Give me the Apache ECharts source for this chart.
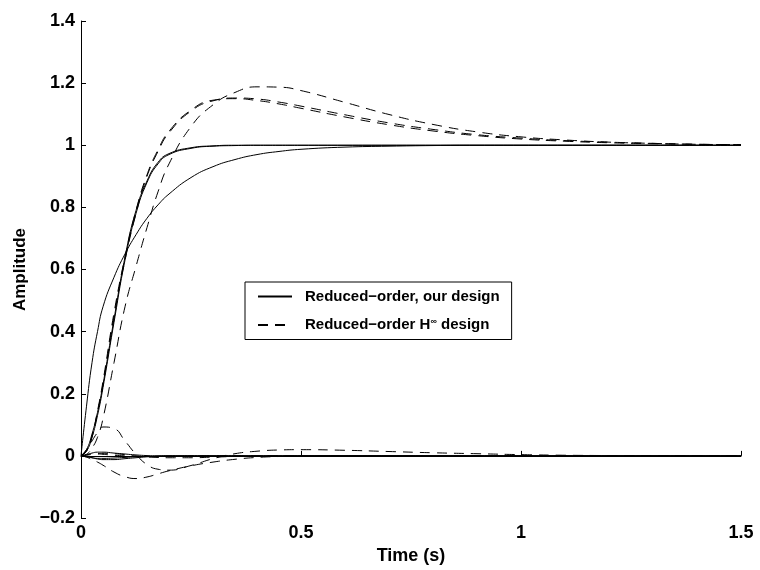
<!DOCTYPE html>
<html>
<head>
<meta charset="utf-8">
<script src="https://cdn.jsdelivr.net/npm/echarts@6/dist/echarts.min.js"></script>
<style>
  html, body { margin: 0; padding: 0; background: #fff; }
  #chart { width: 760px; height: 570px; }
</style>
</head>
<body>
<div id="chart"></div>
<script>
  // time grid (s) shared by every curve
  var T = [0, 0.0125, 0.025, 0.0375, 0.05, 0.075, 0.1, 0.125, 0.15, 0.175, 0.2, 0.25, 0.3, 0.35, 0.4, 0.45, 0.5,
           0.6, 0.7, 0.8, 0.9, 1.0, 1.1, 1.2, 1.3, 1.4, 1.5];

  // reduced-order, our design (solid) - diagonal responses
  var ourS1 = [0, 0.16, 0.30, 0.40, 0.48, 0.575, 0.65, 0.712, 0.765, 0.808, 0.843, 0.896, 0.931, 0.954, 0.97, 0.98, 0.987,
               0.994, 0.997, 0.999, 1, 1, 1, 1, 1, 1, 1];
  var ourS2 = [0, 0.015, 0.06, 0.13, 0.22, 0.43, 0.63, 0.78, 0.88, 0.94, 0.97, 0.99, 0.997, 0.999, 1, 1, 1,
               1, 1, 1, 1, 1, 1, 1, 1, 1, 1];
  var ourS3 = [0, 0.02, 0.07, 0.14, 0.23, 0.44, 0.64, 0.79, 0.885, 0.945, 0.973, 0.992, 0.998, 1, 1, 1, 1,
               1, 1, 1, 1, 1, 1, 1, 1, 1, 1];
  // off-diagonal (solid)
  var ourC1 = [0, 0.004, 0.009, 0.012, 0.012, 0.009, 0.006, 0.003, 0.001, 0, 0, 0, 0, 0, 0, 0, 0,
               0, 0, 0, 0, 0, 0, 0, 0, 0, 0];
  var ourC2 = [0, -0.003, -0.006, -0.008, -0.008, -0.007, -0.005, -0.003, -0.002, -0.001, 0, 0, 0, 0, 0, 0, 0,
               0, 0, 0, 0, 0, 0, 0, 0, 0, 0];
  var ourC3 = [0, -0.002, -0.006, -0.01, -0.012, -0.012, -0.009, -0.006, -0.003, -0.001, 0, 0, 0, 0, 0, 0, 0,
               0, 0, 0, 0, 0, 0, 0, 0, 0, 0];

  // reduced-order H-infinity design (dashed) - diagonal responses
  var hinfD1 = [0, 0.005, 0.025, 0.06, 0.12, 0.3, 0.48, 0.61, 0.735, 0.85, 0.94, 1.06, 1.13, 1.17, 1.188, 1.187, 1.176,
                1.138, 1.099, 1.067, 1.043, 1.027, 1.017, 1.01, 1.006, 1.003, 1.002];
  var hinfD2 = [0, 0.015, 0.06, 0.14, 0.23, 0.45, 0.63, 0.78, 0.9, 0.98, 1.04, 1.11, 1.143, 1.152, 1.149, 1.139, 1.126,
                1.098, 1.072, 1.051, 1.034, 1.023, 1.015, 1.01, 1.006, 1.003, 1.002];
  var hinfD3 = [0, 0.018, 0.065, 0.145, 0.24, 0.46, 0.64, 0.79, 0.905, 0.985, 1.045, 1.113, 1.145, 1.15, 1.144, 1.133, 1.119,
                1.091, 1.066, 1.046, 1.031, 1.02, 1.013, 1.008, 1.005, 1.003, 1.001];
  // off-diagonal (dashed)
  var hinfC1 = [0, 0.02, 0.048, 0.075, 0.093, 0.088, 0.048, 0.005, -0.028, -0.043, -0.046, -0.031, -0.009, 0.007, 0.015, 0.019, 0.02,
                0.018, 0.014, 0.01, 0.007, 0.004, 0.002, 0.001, 0, 0, 0];
  var hinfC2 = [0, -0.004, -0.012, -0.02, -0.03, -0.052, -0.067, -0.073, -0.068, -0.058, -0.048, -0.032, -0.02, -0.011, -0.005, -0.002, 0,
                0.001, 0.001, 0, 0, 0, 0, 0, 0, 0, 0];
  var hinfC3 = [0, 0.002, 0.005, 0.007, 0.008, 0.007, 0.004, 0, -0.003, -0.005, -0.006, -0.006, -0.004, -0.002, -0.001, 0, 0,
                0, 0, 0, 0, 0, 0, 0, 0, 0, 0];
  var hinfC4 = [0, 0.003, 0.006, 0.006, 0.005, 0.002, 0, -0.002, -0.003, -0.003, -0.002, -0.001, 0, 0, 0, 0, 0,
                0, 0, 0, 0, 0, 0, 0, 0, 0, 0];

  var xTicks = [0, 0.5, 1, 1.5];
  var yTicks = [-0.2, 0, 0.2, 0.4, 0.6, 0.8, 1, 1.2, 1.4];

  var OUR = 'Reduced\u2212order, our design';
  var HINF = 'Reduced\u2212order H\u221e design';
  var FONT = '"Liberation Sans", Arial, Helvetica, sans-serif';

  function pairs(vals) {
    return T.map(function (t, i) { return [t, vals[i]]; });
  }

  function curve(name, vals, dashed) {
    return {
      name: name,
      type: 'line',
      data: pairs(vals),
      symbol: 'none',
      smooth: 0.5,
      lineStyle: { color: '#000', width: 1, type: dashed ? [10, 7] : 'solid' },
      itemStyle: { color: '#000' },
      emphasis: { disabled: true }
    };
  }

  var series = [
    curve(OUR, ourS1, false),
    curve(OUR, ourS2, false),
    curve(OUR, ourS3, false),
    curve(OUR, ourC1, false),
    curve(OUR, ourC2, false),
    curve(OUR, ourC3, false),
    curve(HINF, hinfD1, true),
    curve(HINF, hinfD2, true),
    curve(HINF, hinfD3, true),
    curve(HINF, hinfC1, true),
    curve(HINF, hinfC2, true),
    curve(HINF, hinfC3, true),
    curve(HINF, hinfC4, true)
  ];

  var tickFont = { color: '#000', fontFamily: FONT, fontWeight: 'bold', fontSize: 18 };

  var option = {
    animation: false,
    backgroundColor: '#fff',
    grid: { left: 81, right: 19, top: 21, bottom: 52 },
    legend: {
      data: [OUR, HINF],
      orient: 'vertical',
      left: 245,
      top: 282,
      padding: [7, 12, 7, 12],
      itemGap: 13,
      itemWidth: 34,
      itemHeight: 14,
      borderColor: '#000',
      borderWidth: 1,
      backgroundColor: '#fff',
      selectedMode: false,
      itemStyle: { opacity: 0 },
      formatter: function (name) {
        if (name === HINF) return '{a|Reduced\u2212order H}{s|\u221e}{a| design}';
        return '{a|' + name + '}';
      },
      textStyle: {
        padding: [0, 0, 0, 8],
        rich: {
          a: { fontFamily: FONT, fontWeight: 'bold', fontSize: 15, color: '#000', lineHeight: 16 },
          s: { fontFamily: FONT, fontWeight: 'bold', fontSize: 9, color: '#000', verticalAlign: 'top', lineHeight: 16 }
        }
      }
    },
    xAxis: {
      type: 'value',
      min: xTicks[0],
      max: xTicks[xTicks.length - 1],
      interval: 0.5,
      name: 'Time (s)',
      nameLocation: 'middle',
      nameGap: 29,
      nameTextStyle: { color: '#000', fontFamily: FONT, fontWeight: 'bold', fontSize: 18 },
      axisLine: { lineStyle: { color: '#000', width: 1 } },
      axisTick: { inside: true, length: 5, lineStyle: { color: '#000' } },
      axisLabel: Object.assign({ margin: 6 }, tickFont),
      splitLine: { show: false }
    },
    yAxis: {
      type: 'value',
      min: yTicks[0],
      max: yTicks[yTicks.length - 1],
      interval: 0.2,
      name: 'Amplitude',
      nameLocation: 'middle',
      nameGap: 50,
      nameTextStyle: { color: '#000', fontFamily: FONT, fontWeight: 'bold', fontSize: 17 },
      axisLine: { show: true, lineStyle: { color: '#000', width: 1 } },
      axisTick: { show: true, inside: true, length: 5, lineStyle: { color: '#000' } },
      axisLabel: Object.assign({
        margin: 6,
        formatter: function (v) {
          var r = parseFloat(v.toFixed(1));
          return r < 0 ? '\u2212' + Math.abs(r) : String(r);
        }
      }, tickFont),
      splitLine: { show: false }
    },
    series: series
  };

  var chart = echarts.init(document.getElementById('chart'));
  chart.setOption(option);
</script>
</body>
</html>
